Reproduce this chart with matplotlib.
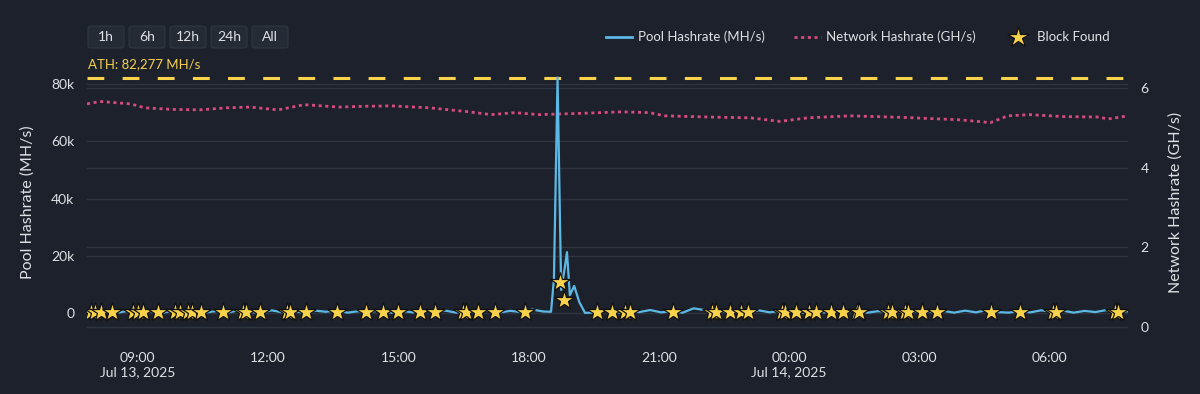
import pandas as pd
import numpy as np
import matplotlib
matplotlib.use('Agg')
import matplotlib.pyplot as plt
from matplotlib.patches import FancyBboxPatch
from matplotlib.lines import Line2D

plt.rcParams['font.family'] = ['Lato', 'DejaVu Sans']

# pool hashrate (MH/s), 15 min samples before and after the spike
pre_times = pd.date_range('2025-07-13 07:50', '2025-07-13 18:20', freq='15min')
pre_vals = [900, 300, 1000, 400, 1100, 500, 800, 300, 1000, 600, 1100, 400, 900, 300,
            1200, 500, 300, 1100, 400, 900, 200, 1000, 600, 1200, 300, 800, 500, 1100,
            300, 900, 400, 1200, 500, 1000, 300, 800, 600, 1100, 400, 900, 500, 1400, 700]
spike_times = pd.to_datetime(['2025-07-13 18:31', '2025-07-13 18:35', '2025-07-13 18:40',
                              '2025-07-13 18:45', '2025-07-13 18:50', '2025-07-13 18:53',
                              '2025-07-13 18:57', '2025-07-13 19:03', '2025-07-13 19:10',
                              '2025-07-13 19:18'])
spike_vals = [600, 12000, 82277, 8200, 16000, 21400, 6400, 9600, 4000, 200]
post_times = pd.date_range('2025-07-13 19:33', '2025-07-14 07:48', freq='15min')
post_vals = [400, 1100, 300, 900, 500, 1200, 400, 800, 300, 1800, 1200, 900, 500, 900,
             300, 1100, 400, 1000, 600, 300, 1100, 400, 900, 500, 1200, 300, 800, 600,
             1000, 300, 1100, 500, 900, 300, 1000, 400, 1200, 500, 300, 900, 400, 1100,
             600, 1000, 300, 900, 500, 1200, 400, 800]

# network hashrate (GH/s)
net_times = ['07:50', '08:08', '08:50', '09:10', '09:50', '10:26', '11:02', '11:35', '12:14',
             '12:50', '13:38', '14:14', '14:50', '15:44', '16:38', '17:08', '17:41', '18:14',
             '19:08', '20:08', '20:47', '21:08', '22:08', '23:06', '23:47',
             '00:26', '01:24', '02:38', '03:56', '04:38', '05:02', '05:32', '06:20', '07:08',
             '07:20', '07:48']
net_vals = [5.60, 5.66, 5.60, 5.50, 5.46, 5.45, 5.50, 5.52, 5.45, 5.58, 5.52, 5.54, 5.55,
            5.50, 5.40, 5.33, 5.38, 5.33, 5.36, 5.40, 5.38, 5.30, 5.27, 5.25, 5.16,
            5.25, 5.30, 5.26, 5.20, 5.13, 5.30, 5.33, 5.28, 5.27, 5.22, 5.30]

# blocks found
block_times = ['07:56', '08:01', '08:10', '08:24', '08:54', '09:00', '09:08', '09:28', '09:51',
               '09:58', '10:09', '10:15', '10:28', '10:58', '11:25', '11:30', '11:49', '12:26',
               '12:30', '12:53', '13:35', '14:16', '14:39', '15:00', '15:30', '15:51', '16:29',
               '16:34', '16:50', '17:13', '17:55', '18:44', '18:49', '19:35', '19:55', '20:13',
               '20:20', '21:19', '22:13', '22:19', '22:38', '22:54', '23:03', '23:50', '23:54',
               '00:10', '00:28', '00:37', '00:58', '01:15', '01:33', '01:37', '02:17', '02:22',
               '02:40', '02:44', '03:04', '03:24', '04:39', '05:19', '06:04', '06:09', '07:30',
               '07:34']
block_vals = [600] * len(block_times)
block_vals[31] = 10900
block_vals[32] = 4700

ath = 82277
buttons = ['1h', '6h', '12h', '24h', 'All']


def to_dt(labels):
    # clock times in order; day rolls over once the clock goes back
    out = []
    day = pd.Timestamp('2025-07-13')
    prev = ''
    for s in labels:
        if s < prev:
            day = pd.Timestamp('2025-07-14')
        prev = s
        out.append(pd.Timestamp(day.strftime('%Y-%m-%d') + ' ' + s))
    return out


pool_t = list(pre_times) + list(spike_times) + list(post_times)
pool_v = pre_vals + spike_vals + post_vals

bg = '#1c212b'
grid_c = '#2f353f'
txt_c = '#dfe1e5'
pool_c = '#5cb8e4'
net_c = '#d84a80'
gold = '#f7d24a'

fig = plt.figure(figsize=(12, 3.94), dpi=100, facecolor=bg)
W, H = 1200, 394
ax = fig.add_axes([87 / W, 1 - 333 / H, (1128 - 87) / W, (333 - 72) / H])
ax.set_facecolor(bg)
ax2 = ax.twinx()

# network on ax (right side)
ax.plot(to_dt(net_times), net_vals, color=net_c, lw=2.0, linestyle=(0, (1.1, 1.3)))
ax.yaxis.tick_right()
ax.yaxis.set_label_position('right')
ax.set_ylim(-0.15, 6.40)
ax.set_yticks([0, 2, 4, 6])
ax.set_ylabel('Network Hashrate (GH/s)', color=txt_c, fontsize=11.5, labelpad=14)

# pool + blocks + ATH on ax2 (left side)
ax2.yaxis.tick_left()
ax2.yaxis.set_label_position('left')
ax2.plot(pool_t, pool_v, color=pool_c, lw=1.6, zorder=3)
ax2.axhline(ath, color=gold, lw=2.2, linestyle=(0, (5.5, 6)), zorder=2)
ax2.plot(to_dt(block_times), block_vals, linestyle='none', marker='*', markersize=15,
         markerfacecolor=gold, markeredgecolor='#111111', markeredgewidth=0.9, zorder=5)
ax2.set_ylim(-6800, 84200)
ax2.set_yticks([0, 20000, 40000, 60000, 80000])
ax2.set_yticklabels(['0', '20k', '40k', '60k', '80k'])
ax2.set_ylabel('Pool Hashrate (MH/s)', color=txt_c, fontsize=11.5, labelpad=12)
ax2.text(pd.Timestamp('2025-07-13 07:52'), 85000, 'ATH: 82,277 MH/s', color=gold,
         fontsize=9.5, ha='left', va='bottom', clip_on=False)

for a in (ax, ax2):
    a.grid(True, axis='y', color=grid_c, lw=1)
    a.tick_params(axis='both', length=0, colors=txt_c, labelsize=10)
    for sp in a.spines.values():
        sp.set_visible(False)
ax.tick_params(axis='y', pad=9)
ax2.tick_params(axis='y', pad=9)

ax.set_xlim(pd.Timestamp('2025-07-13 07:50'), pd.Timestamp('2025-07-14 07:48'))
tick_pos = pd.date_range('2025-07-13 09:00', '2025-07-14 06:00', freq='3h')
tick_lab = []
for t in tick_pos:
    s = t.strftime('%H:%M')
    if t.hour == 9 and t.day == 13:
        s += '\nJul 13, 2025'
    if t.hour == 0:
        s += '\nJul 14, 2025'
    tick_lab.append(s)
ax.set_xticks(tick_pos)
ax.set_xticklabels(tick_lab)
ax.tick_params(axis='x', pad=14)

# range buttons
for i, b in enumerate(buttons):
    cx = 106 + i * 41
    box = FancyBboxPatch(((cx - 18) / W, 1 - 48 / H), 36 / W, 22 / H,
                         boxstyle='round,pad=0,rounding_size=0.004',
                         transform=fig.transFigure, facecolor='#252b35',
                         edgecolor='#30363f', lw=0.8)
    fig.patches.append(box)
    fig.text(cx / W, 1 - 37 / H, b, color=txt_c, fontsize=10, ha='center', va='center')

handles = [Line2D([], [], color=pool_c, lw=2),
           Line2D([], [], color=net_c, lw=2.0, linestyle=(0, (1.1, 1.3))),
           Line2D([], [], linestyle='none', marker='*', markersize=16,
                  markerfacecolor=gold, markeredgecolor='#111111', markeredgewidth=0.9)]
labels = ['Pool Hashrate (MH/s)', 'Network Hashrate (GH/s)', 'Block Found']
leg = fig.legend(handles, labels, loc='center', bbox_to_anchor=(858 / W, 1 - 37 / H),
                 ncol=3, frameon=False, fontsize=9.5, handlelength=2.0,
                 handletextpad=0.45, columnspacing=2.2)
for t in leg.get_texts():
    t.set_color(txt_c)

fig.savefig('out.png', dpi=100, facecolor=bg)
